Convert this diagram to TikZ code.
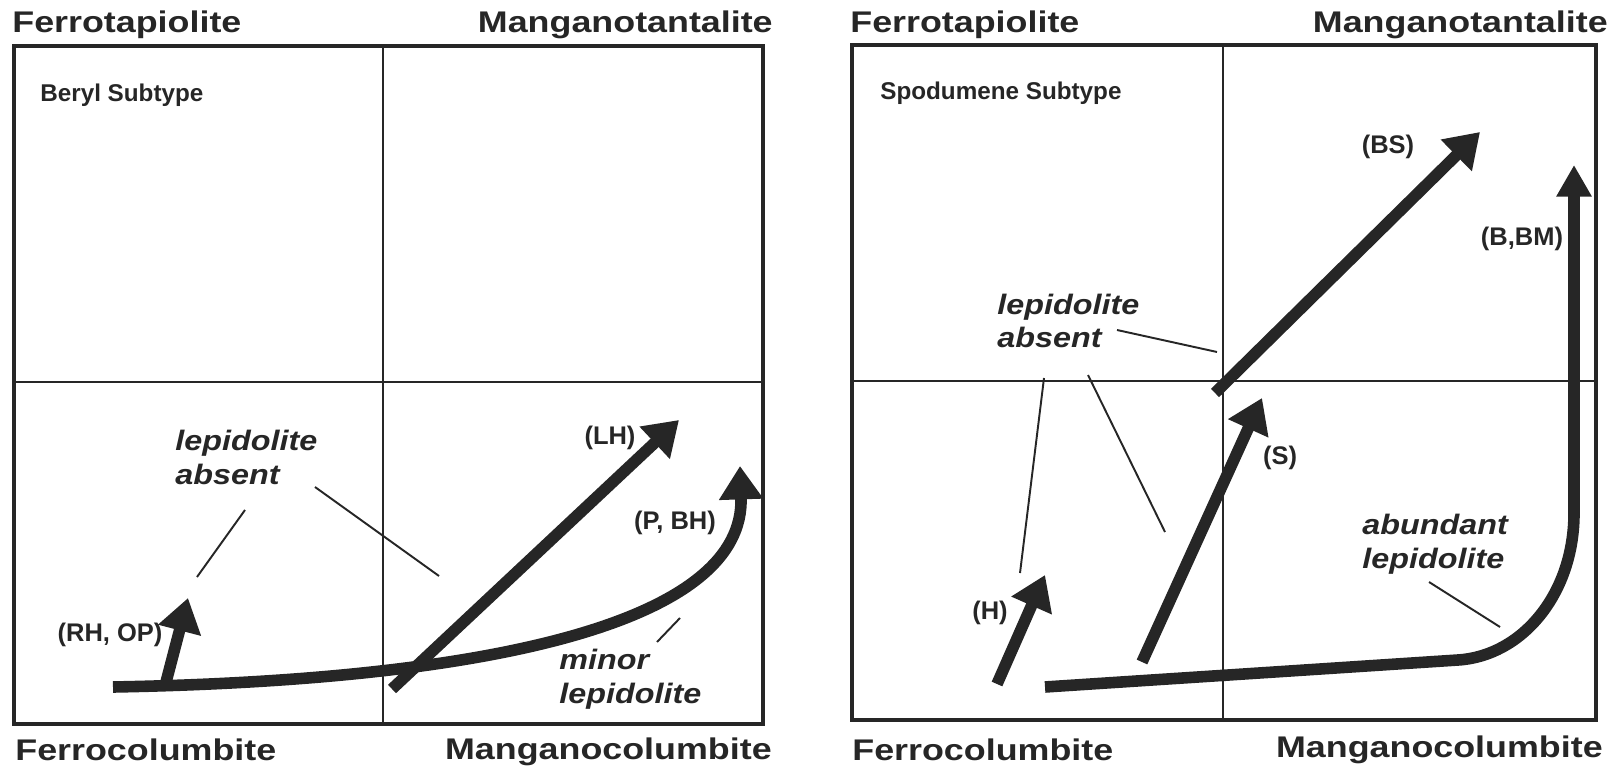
\documentclass[tikz,border=0pt]{standalone}
\usepackage{fontspec}
\setmainfont{Liberation Sans}
\newfontfamily\widesans{Liberation Sans}[FakeStretch=1.2]
\newfontfamily\notesans{Liberation Sans}[FakeStretch=1.15]
\usepackage{tikz}
\usetikzlibrary{arrows.meta}
\definecolor{ink}{gray}{0.15}

\begin{document}
\begin{tikzpicture}[x=0.02cm, y=-0.02cm,
  corner/.style={font=\widesans\bfseries\fontsize{17}{20}\selectfont, text=ink, inner sep=0pt},
  subtype/.style={font=\bfseries\fontsize{13.8}{16}\selectfont, text=ink, inner sep=0pt, anchor=base west},
  note/.style={font=\notesans\bfseries\itshape\fontsize{16}{19}\selectfont, text=ink, inner sep=0pt, anchor=base west, align=left},
  code/.style={font=\bfseries\fontsize{14.5}{17}\selectfont, text=ink, inner sep=0pt},
  panel/.style={draw=ink, line width=2.8pt},
  divider/.style={draw=ink, line width=0.8pt},
  leader/.style={draw=ink, line width=1.1pt},
  trend/.style={draw=ink, line width=6.6pt, -{Triangle[length=19pt,width=24pt]}}
  ]
  \useasboundingbox (0,0) rectangle (1621,766);

  %--- Beryl subtype panel
  \draw[panel] (14,46) rectangle (763,724);
  \draw[divider] (383,46) -- (383,724);
  \draw[divider] (14,382) -- (763,382);
  \node[corner, anchor=base west] (ftL) at (12,33) {Ferrotapiolite};
  \node[corner, anchor=base east] (mtL) at (773,33) {Manganotantalite};
  \node[corner, anchor=base west] (fcL) at (15,760) {Ferrocolumbite};
  \node[corner, anchor=base east] (mcL) at (772,759) {Manganocolumbite};
  \node[subtype] (beryl) at (40,102) {Beryl Subtype};

  %--- Beryl subtype trends
  \coordinate (pbStart) at (113,687);
  \coordinate (pbTip) at (740,466);
  \coordinate (rhTail) at (165,686);
  \coordinate (rhTip) at (188,598);
  \coordinate (lhTail) at (392,689);
  \coordinate (lhTip) at (679,420);
  \draw[trend] (pbStart) .. controls (500,680) and (745,620) .. (pbTip);
  \draw[trend] (rhTail) -- (rhTip);
  \draw[trend] (lhTail) -- (lhTip);

  \node[code] (rhop) at (110,635) {(RH, OP)};
  \node[code] (lh) at (610,438) {(LH)};
  \node[code] (pbh) at (675,523) {(P, BH)};
  % base of a two-line note = its last line
  \node[note] (lepAbsL) at (175,484) {lepidolite\\absent};
  \node[note] (minorL) at (559,703) {minor\\lepidolite};

  %--- leaders, left
  \coordinate (la1) at (245,510); \coordinate (la2) at (197,577);
  \coordinate (lb1) at (315,487); \coordinate (lb2) at (439,576);
  \coordinate (lc1) at (680,618); \coordinate (lc2) at (657,642);
  \draw[leader] (la1) -- (la2);
  \draw[leader] (lb1) -- (lb2);
  \draw[leader] (lc1) -- (lc2);

  %--- Spodumene subtype panel
  \draw[panel] (852,45) rectangle (1596,720);
  \draw[divider] (1223,45) -- (1223,720);
  \draw[divider] (852,381) -- (1596,381);
  \node[corner, anchor=base west] (ftR) at (850,33) {Ferrotapiolite};
  \node[corner, anchor=base east] (mtR) at (1608,33) {Manganotantalite};
  \node[corner, anchor=base west] (fcR) at (852,760) {Ferrocolumbite};
  \node[corner, anchor=base east] (mcR) at (1603,757) {Manganocolumbite};
  \node[subtype] (spod) at (880,100) {Spodumene Subtype};

  %--- Spodumene subtype trends
  \coordinate (hTail) at (997,684);
  \coordinate (hTip) at (1045,575);
  \coordinate (sTail) at (1142,662);
  \coordinate (sTip) at (1262,398);
  \coordinate (bsTail) at (1215,393);
  \coordinate (bsTip) at (1480,132);
  \coordinate (abStart) at (1045,687);
  \coordinate (abBend) at (1458,660);
  \coordinate (abTip) at (1574,165);
  \draw[trend] (hTail) -- (hTip);
  \draw[trend] (sTail) -- (sTip);
  \draw[trend] (bsTail) -- (bsTip);
  \draw[trend, -{Triangle[length=18pt,width=19pt]}] (abStart) -- (abBend)
    .. controls (1522,656) and (1574,594) .. (1574,513) -- (abTip);

  \node[code] (bs) at (1388,147) {(BS)};
  \node[code] (bbm) at (1522,239) {(B,BM)};
  \node[code] (hh) at (990,613) {(H)};
  \node[code] (ss) at (1280,458) {(S)};
  \node[note] (lepAbsR) at (997,348) {lepidolite\\absent};
  \node[note] (abund) at (1362,568) {abundant\\lepidolite};

  %--- leaders, right
  \coordinate (ra1) at (1117,330); \coordinate (ra2) at (1217,352);
  \coordinate (rb1) at (1044,378); \coordinate (rb2) at (1020,573);
  \coordinate (rc1) at (1088,375); \coordinate (rc2) at (1165,532);
  \coordinate (rd1) at (1429,582); \coordinate (rd2) at (1500,627);
  \draw[leader] (ra1) -- (ra2);
  \draw[leader] (rb1) -- (rb2);
  \draw[leader] (rc1) -- (rc2);
  \draw[leader] (rd1) -- (rd2);

\end{tikzpicture}
\end{document}
